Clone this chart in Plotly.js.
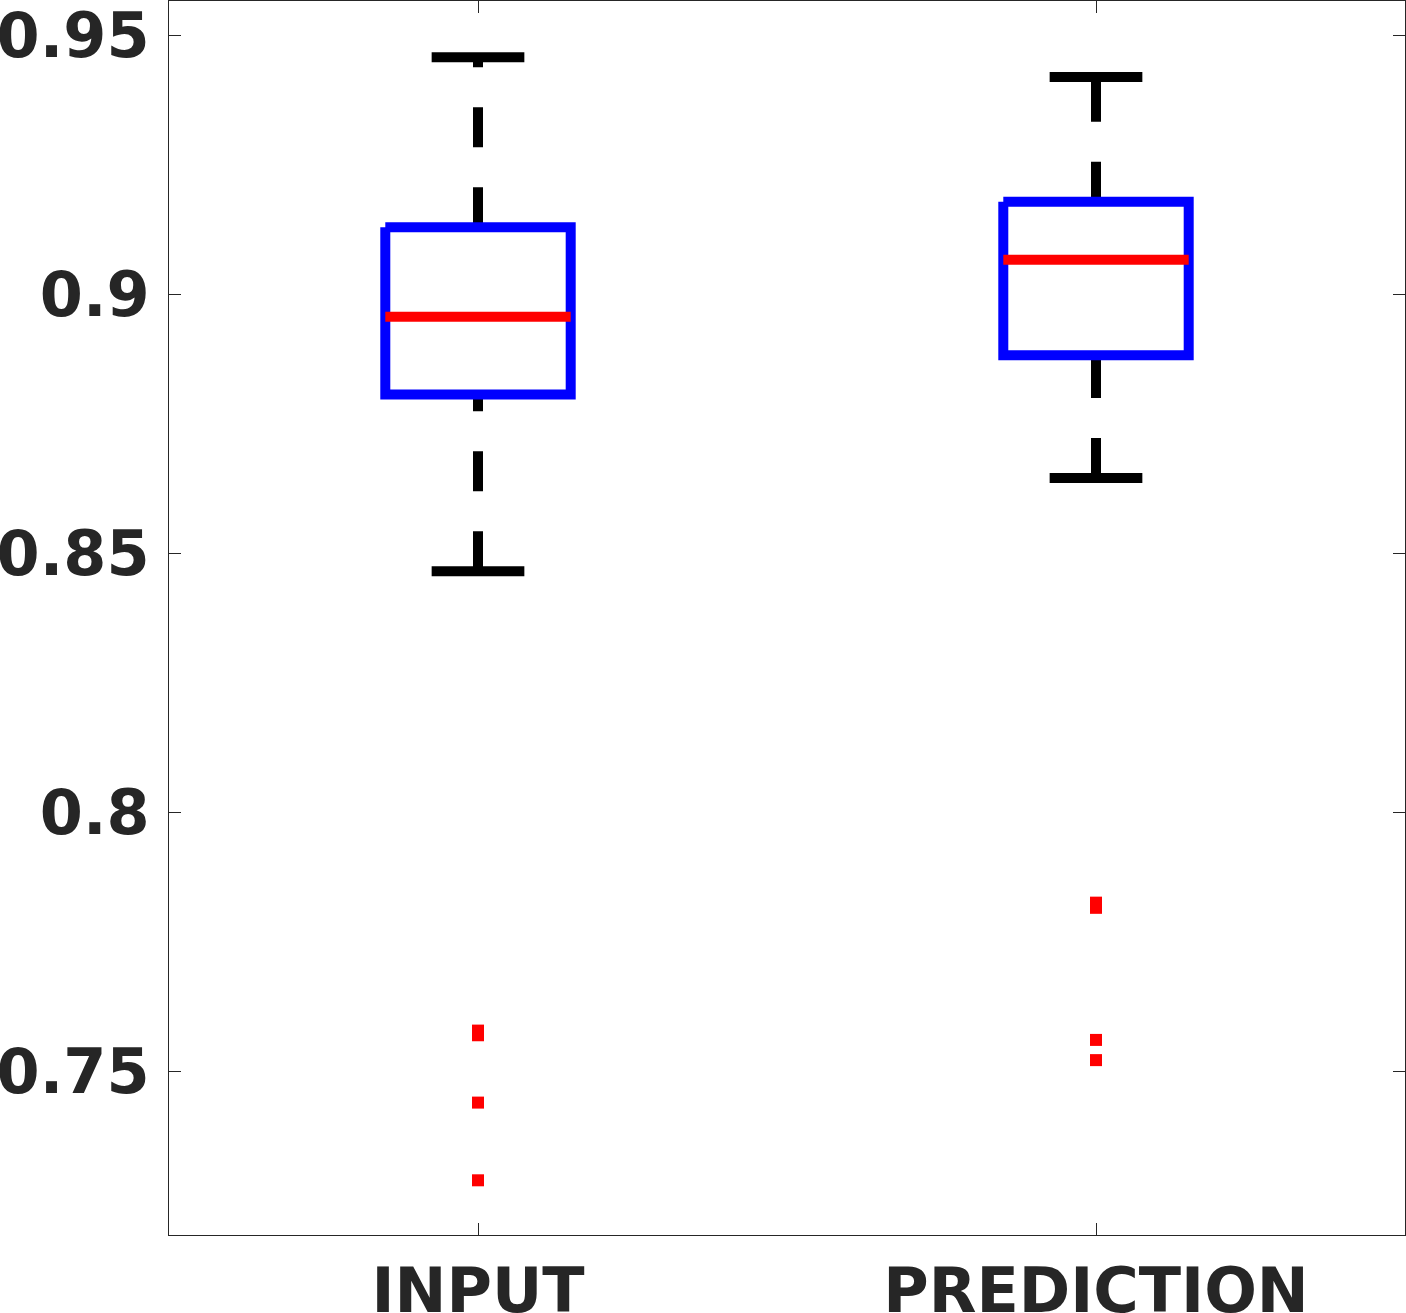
<!DOCTYPE html>
<html>
<head>
<meta charset="utf-8">
<script src="https://cdn.plot.ly/plotly-3.0.1.min.js"></script>
<style>html,body{margin:0;padding:0;background:#fff;overflow:hidden}#chart{width:1406px;height:1313px}</style>
</head>
<body>
<div id="chart"></div>
<script>
// ---- data ----
var categories = ["INPUT", "PREDICTION"];
var positions = [1, 2];
var q1 = [0.8806, 0.8882];
var medians = [0.8956, 0.9066];
var q3 = [0.9129, 0.9178];
var lowerWhisker = [0.8465, 0.8645];
var upperWhisker = [0.9457, 0.9419];
var outliersInput = [0.7578, 0.7569, 0.7439, 0.7289];
var outliersPrediction = [0.7825, 0.7815, 0.7560, 0.7521];
var yTickVals = [0.75, 0.8, 0.85, 0.9, 0.95];
var yTickText = ["0.75", "0.8", "0.85", "0.9", "0.95"];

// ---- styles ----
var boxHalf = 0.15, capHalf = 0.075, lw = 10;
var outlierSets = [outliersInput, outliersPrediction];
var traces = [];
for (var i = 0; i < categories.length; i++) {
  var c = positions[i];
  // whiskers (drawn first, under the box)
  traces.push({x: [c, c], y: [q3[i], upperWhisker[i]], mode: 'lines',
    line: {color: '#000000', width: lw, dash: '40px,40px'}});
  traces.push({x: [c, c], y: [lowerWhisker[i], q1[i]], mode: 'lines',
    line: {color: '#000000', width: lw, dash: '40px,40px'}});
  // caps
  traces.push({x: [c - capHalf, c + capHalf], y: [upperWhisker[i], upperWhisker[i]], mode: 'lines',
    line: {color: '#000000', width: lw}});
  traces.push({x: [c - capHalf, c + capHalf], y: [lowerWhisker[i], lowerWhisker[i]], mode: 'lines',
    line: {color: '#000000', width: lw}});
  // box
  traces.push({x: [c - boxHalf, c + boxHalf, c + boxHalf, c - boxHalf, c - boxHalf],
    y: [q3[i], q3[i], q1[i], q1[i], q3[i]], mode: 'lines',
    line: {color: '#0000FF', width: lw}});
  // median
  traces.push({x: [c - boxHalf, c + boxHalf], y: [medians[i], medians[i]], mode: 'lines',
    line: {color: '#FF0000', width: lw}});
  // outliers
  var ox = outlierSets[i].map(function () { return c; });
  traces.push({x: ox, y: outlierSets[i], mode: 'markers',
    marker: {symbol: 'square', size: 12, color: '#FF0000', line: {width: 0}}});
}

var tickFont = {family: 'DejaVu Sans', size: 62, color: '#262626', weight: 'bold'};
var layout = {
  width: 1406, height: 1313,
  margin: {l: 169, r: 1, t: 1, b: 78, pad: 0},
  paper_bgcolor: '#ffffff', plot_bgcolor: '#ffffff',
  showlegend: false, hovermode: false,
  xaxis: {
    range: [0.5, 2.5], tickvals: positions, ticktext: categories,
    ticks: 'inside', ticklen: 12, tickwidth: 1, tickcolor: '#262626',
    showline: true, linecolor: '#262626', linewidth: 1, mirror: 'allticks',
    showgrid: false, zeroline: false, tickfont: tickFont, ticklabelstandoff: 2,
    ticklabeloverflow: 'allow'
  },
  yaxis: {
    range: [0.71834, 0.956564], tickvals: yTickVals, ticktext: yTickText,
    ticks: 'inside', ticklen: 12, tickwidth: 1, tickcolor: '#262626',
    showline: true, linecolor: '#262626', linewidth: 1, mirror: 'allticks',
    showgrid: false, zeroline: false, tickfont: tickFont, ticklabelstandoff: 6,
    ticklabeloverflow: 'allow'
  }
};
Plotly.newPlot('chart', traces, layout, {displayModeBar: false, staticPlot: true});
</script>
</body>
</html>
